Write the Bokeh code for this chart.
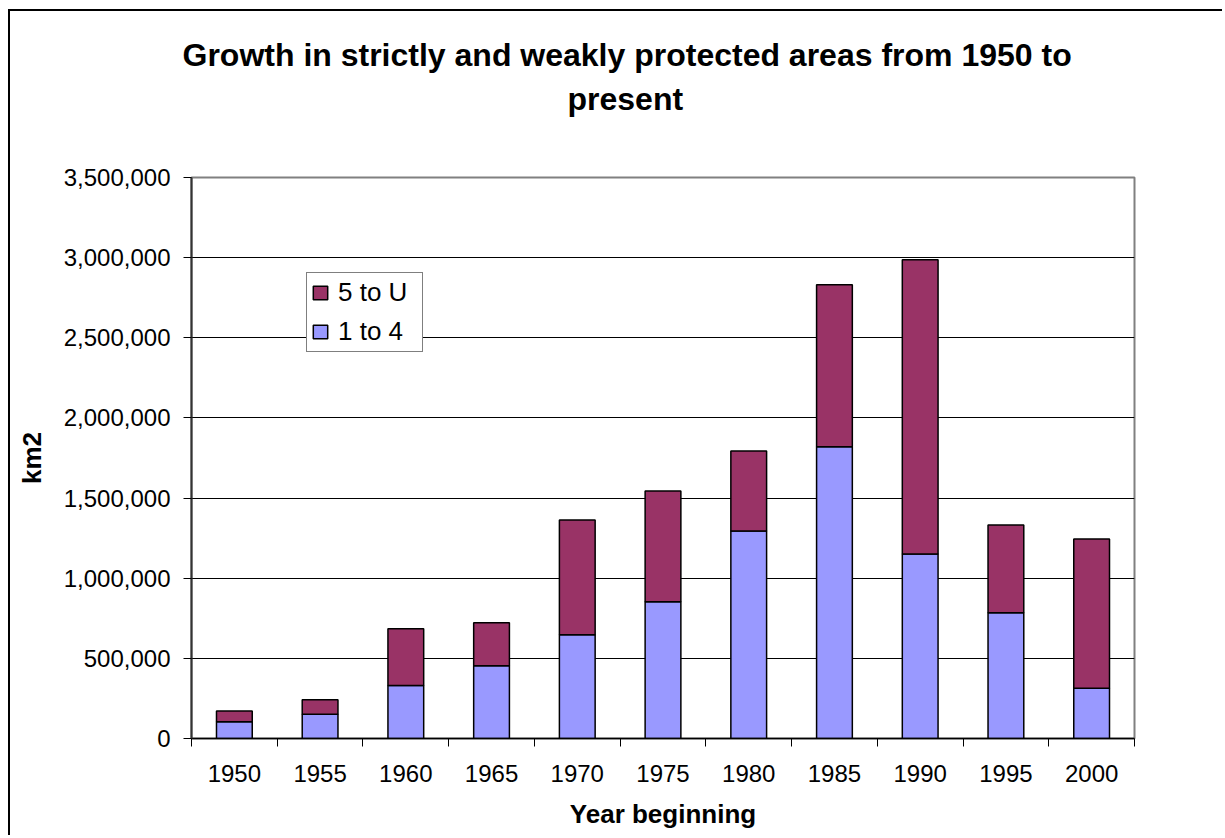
from bokeh.plotting import figure
from bokeh.models import (Range1d, FixedTicker, NumeralTickFormatter, Legend, LegendItem,
                          Title, ColumnDataSource, CustomJSTickFormatter)
from bokeh.embed import file_html
from bokeh.resources import INLINE

years = ["1950", "1955", "1960", "1965", "1970", "1975", "1980", "1985", "1990", "1995", "2000"]
cat_1_to_4 = [105000, 152000, 330000, 454000, 647000, 853000, 1295000, 1820000, 1151000, 785000, 313000]
cat_5_to_U = [67000, 89000, 355000, 268000, 716000, 691000, 498000, 1011000, 1836000, 547000, 932000]

FONT = "Liberation Sans"
BLUE = "#9999FF"
MAROON = "#993366"

pos = [i + 0.5 for i in range(len(years))]
tot = [a + b for a, b in zip(cat_1_to_4, cat_5_to_U)]
src = ColumnDataSource(dict(x=pos, year=years, a=cat_1_to_4, top=tot, zero=[0] * len(years)))

p = figure(width=1214, height=826, output_backend="svg", toolbar_location=None,
           x_range=Range1d(0, len(years)), y_range=Range1d(0, 3500000),
           min_border_left=181, min_border_right=90, min_border_top=166, min_border_bottom=99)
p.styles = {"margin-left": "8px", "margin-top": "9px",
            "border-left": "2px solid black", "border-top": "2px solid black"}
p.background_fill_color = "white"
p.border_fill_color = "white"
p.outline_line_color = "#808080"
p.outline_line_width = 2

r1 = p.vbar(x="x", width=0.417, bottom="zero", top="a", source=src,
            fill_color=BLUE, line_color="black", line_width=1.5)
r2 = p.vbar(x="x", width=0.417, bottom="a", top="top", source=src,
            fill_color=MAROON, line_color="black", line_width=1.5)

# grid
yt = list(range(0, 3500001, 500000))
p.xgrid.visible = False
p.ygrid.grid_line_color = "black"
p.ygrid.grid_line_width = 1
p.ygrid.ticker = FixedTicker(ticks=yt)

# y axis
p.yaxis.ticker = FixedTicker(ticks=yt)
p.yaxis.formatter = NumeralTickFormatter(format="0,0")
p.yaxis.major_label_text_font = FONT
p.yaxis.major_label_text_font_size = "24px"
p.yaxis.major_label_text_color = "black"
p.yaxis.major_tick_in = 0
p.yaxis.major_tick_out = 8
p.yaxis.major_tick_line_color = "black"
p.yaxis.minor_tick_line_color = None
p.yaxis.axis_line_color = "#333333"
p.yaxis.axis_line_width = 2
p.yaxis.major_label_standoff = 13
p.yaxis.axis_label = "km2"
p.yaxis.axis_label_text_font = FONT
p.yaxis.axis_label_text_font_style = "bold"
p.yaxis.axis_label_text_font_size = "26px"
p.yaxis.axis_label_text_color = "black"
p.yaxis.axis_label_standoff = 14

# x axis: labels at bar centers, ticks at category boundaries
p.xaxis.ticker = FixedTicker(ticks=pos, minor_ticks=list(range(0, len(years) + 1)))
p.xaxis.formatter = CustomJSTickFormatter(args=dict(labels=years),
                                          code="return labels[Math.floor(tick)];")
p.xaxis.major_tick_line_color = None
p.xaxis.minor_tick_in = 0
p.xaxis.minor_tick_out = 8
p.xaxis.minor_tick_line_color = "black"
p.xaxis.axis_line_color = "black"
p.xaxis.axis_line_width = 1.5
p.xaxis.major_label_text_font = FONT
p.xaxis.major_label_text_font_size = "24px"
p.xaxis.major_label_text_color = "black"
p.xaxis.major_label_standoff = 18
p.xaxis.axis_label = "Year beginning"
p.xaxis.axis_label_text_font = FONT
p.xaxis.axis_label_text_font_style = "bold"
p.xaxis.axis_label_text_font_size = "26px"
p.xaxis.axis_label_text_color = "black"
p.xaxis.axis_label_standoff = 14

# legend
legend = Legend(items=[LegendItem(label="5 to U", renderers=[r2]),
                       LegendItem(label="1 to 4", renderers=[r1])],
                location=(115, 386))
legend.label_text_font = FONT
legend.label_text_font_size = "26px"
legend.label_text_color = "black"
legend.border_line_color = "black"
legend.border_line_width = 1.5
legend.background_fill_color = "white"
legend.background_fill_alpha = 1
legend.glyph_width = 18
legend.glyph_height = 17
legend.label_height = 28
legend.label_width = 80
legend.label_standoff = 9
legend.padding = 4
legend.spacing = 8
legend.margin = 0
p.add_layout(legend, "center")

# titles: first entry of p.above sits closest to the plot; the figure title is outermost
p.title = Title(text="Growth in strictly and weakly protected areas from 1950 to", align="left",
                offset=-9, vertical_align="top", text_font=FONT, text_font_size="32px",
                text_font_style="bold", text_color="black", standoff=8)
spacer = Title(text=" ", text_font_size="1px", standoff=54)
t2 = Title(text="present", align="left", offset=376, vertical_align="top",
           text_font=FONT, text_font_size="32px", text_font_style="bold",
           text_color="black", standoff=4)
p.add_layout(spacer, "above")
p.add_layout(t2, "above")

open("out.html", "w").write(file_html(p, INLINE))
